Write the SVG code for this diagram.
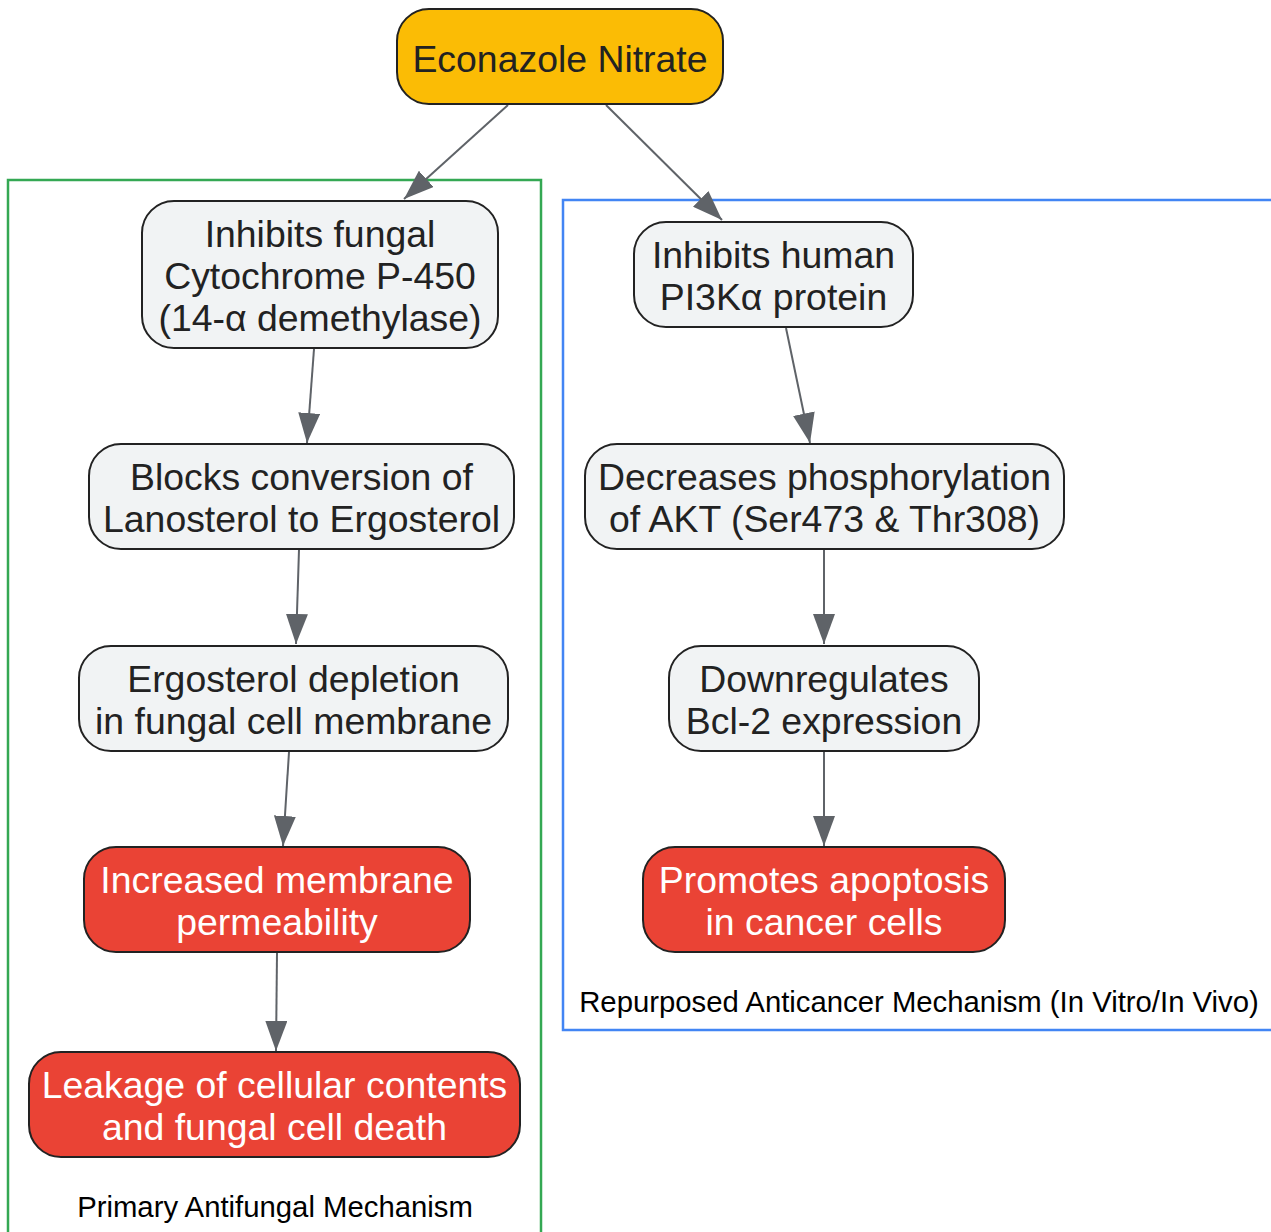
<svg xmlns="http://www.w3.org/2000/svg" width="1271" height="1232" viewBox="0 0 1271 1232">
<style>
.node rect{stroke:#222;stroke-width:2}
.plain rect{fill:#F1F3F4}
.red rect{fill:#EA4335}
.start rect{fill:#FBBC05}
.node text{font-family:"Liberation Sans",Arial,sans-serif;font-size:37.4px;text-anchor:middle;fill:#222}
.red text{fill:#fff}
.edges line{stroke:#5F6368;stroke-width:2;fill:none}
.clabel{font-family:"Liberation Sans",Arial,sans-serif;font-size:29.3px;fill:#000;text-anchor:middle}
</style>
<defs>
<marker id="ah" viewBox="0 0 30 22" refX="30" refY="11" markerWidth="30" markerHeight="22" markerUnits="userSpaceOnUse" orient="auto">
<path d="M0,0 L30,11 L0,22 z" fill="#5F6368"/>
</marker>
</defs>
<rect width="1271" height="1232" fill="#fff"/>
<g id="cluster-antifungal">
<rect x="8" y="180" width="533" height="1070" fill="none" stroke="#34A853" stroke-width="2.5"/>
<text class="clabel" x="275" y="1217">Primary Antifungal Mechanism</text>
</g>
<g id="cluster-anticancer">
<rect x="563" y="200" width="730" height="830" fill="none" stroke="#4285F4" stroke-width="2.5"/>
<text class="clabel" x="919" y="1012">Repurposed Anticancer Mechanism (In Vitro/In Vivo)</text>
</g>
<g class="edges" id="edges">
<line x1="508" y1="105" x2="404" y2="199" marker-end="url(#ah)"/>
<line x1="606" y1="105" x2="722" y2="220" marker-end="url(#ah)"/>
<line x1="314" y1="349" x2="307" y2="443" marker-end="url(#ah)"/>
<line x1="299" y1="550" x2="296" y2="644" marker-end="url(#ah)"/>
<line x1="289" y1="752" x2="283" y2="846" marker-end="url(#ah)"/>
<line x1="277" y1="953" x2="276" y2="1051" marker-end="url(#ah)"/>
<line x1="786" y1="328" x2="810" y2="443" marker-end="url(#ah)"/>
<line x1="824" y1="550" x2="824" y2="644" marker-end="url(#ah)"/>
<line x1="824" y1="752" x2="824" y2="846" marker-end="url(#ah)"/>
</g>
<g id="n-econazole" class="node start">
<rect x="397" y="9" width="326" height="95" rx="32"/>
<text x="560" y="72">Econazole Nitrate</text>
</g>
<g id="n-cyp" class="node plain">
<rect x="142" y="201" width="356" height="147" rx="32"/>
<text x="320" y="247">Inhibits fungal</text>
<text x="320" y="289">Cytochrome P-450</text>
<text x="320" y="331">(14-α demethylase)</text>
</g>
<g id="n-blocks" class="node plain">
<rect x="89" y="444" width="425" height="105" rx="32"/>
<text x="301.5" y="490">Blocks conversion of</text>
<text x="301.5" y="532">Lanosterol to Ergosterol</text>
</g>
<g id="n-depletion" class="node plain">
<rect x="79" y="646" width="429" height="105" rx="32"/>
<text x="293.5" y="692">Ergosterol depletion</text>
<text x="293.5" y="734">in fungal cell membrane</text>
</g>
<g id="n-permeability" class="node red">
<rect x="84" y="847" width="386" height="105" rx="32"/>
<text x="277" y="893">Increased membrane</text>
<text x="277" y="935">permeability</text>
</g>
<g id="n-leakage" class="node red">
<rect x="29" y="1052" width="491" height="105" rx="32"/>
<text x="274.5" y="1098">Leakage of cellular contents</text>
<text x="274.5" y="1140">and fungal cell death</text>
</g>
<g id="n-pi3k" class="node plain">
<rect x="634" y="222" width="279" height="105" rx="32"/>
<text x="773.5" y="268">Inhibits human</text>
<text x="773.5" y="310">PI3Kα protein</text>
</g>
<g id="n-akt" class="node plain">
<rect x="585" y="444" width="479" height="105" rx="32"/>
<text x="824.5" y="490">Decreases phosphorylation</text>
<text x="824.5" y="532">of AKT (Ser473 &amp; Thr308)</text>
</g>
<g id="n-bcl2" class="node plain">
<rect x="669" y="646" width="310" height="105" rx="32"/>
<text x="824" y="692">Downregulates</text>
<text x="824" y="734">Bcl-2 expression</text>
</g>
<g id="n-apoptosis" class="node red">
<rect x="643" y="847" width="362" height="105" rx="32"/>
<text x="824" y="893">Promotes apoptosis</text>
<text x="824" y="935">in cancer cells</text>
</g>
</svg>
